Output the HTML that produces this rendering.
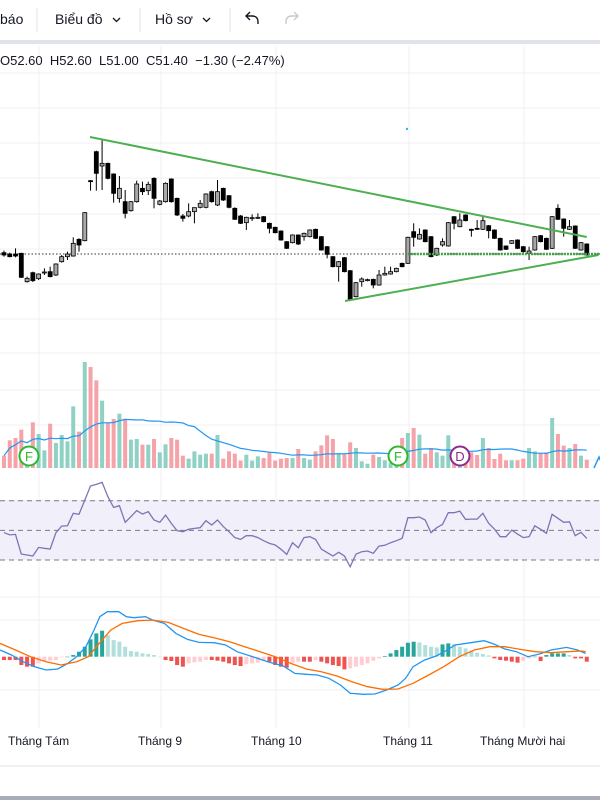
<!DOCTYPE html>
<html><head><meta charset="utf-8"><style>
html,body{margin:0;padding:0;background:#fff;width:600px;height:800px;overflow:hidden;font-family:"Liberation Sans",sans-serif;}
svg{display:block}
</style></head><body>
<svg id="c" width="600" height="800" xmlns="http://www.w3.org/2000/svg">
<g>
 <rect x="0" y="0" width="600" height="40" fill="#fff"/>
 <text x="0" y="24" font-size="14" fill="#131722">báo</text>
 <line x1="37" y1="8" x2="37" y2="32" stroke="#e0e3eb"/>
 <text x="55" y="24" font-size="14" fill="#131722">Biểu đồ</text>
 <path d="M113 18 l3.5 3.5 l3.5 -3.5" fill="none" stroke="#131722" stroke-width="1.3"/>
 <line x1="140" y1="8" x2="140" y2="32" stroke="#e0e3eb"/>
 <text x="155" y="24" font-size="14" fill="#131722">Hồ sơ</text>
 <path d="M203 18 l3.5 3.5 l3.5 -3.5" fill="none" stroke="#131722" stroke-width="1.3"/>
 <line x1="230" y1="8" x2="230" y2="32" stroke="#e0e3eb"/>
 <path d="M258 24 v-2 q0 -6 -6 -6 h-6 M250 12 l-4 4 l4 4" fill="none" stroke="#131722" stroke-width="1.4"/>
 <path d="M286 24 v-2 q0 -6 6 -6 h6 M294 12 l4 4 l-4 4" fill="none" stroke="#c8cad0" stroke-width="1.4"/>
 <rect x="0" y="40" width="600" height="4" fill="#e0e3eb"/>
</g>
<g id="grid"></g>
<rect x="0" y="500" width="600" height="60" fill="#f1eff9"/>
<g id="rsiLines"></g>
<g id="vol"></g>
<g id="price"></g>
<g id="rsi"></g>
<g id="macd"></g>
<text x="0" y="65" font-size="13" fill="#131722">O52.60&#160; H52.60&#160; L51.00&#160; C51.40&#160; −1.30 (−2.47%)</text>
<g font-size="12" fill="#131722">
 <text x="8" y="745">Tháng Tám</text>
 <text x="138" y="745">Tháng 9</text>
 <text x="251" y="745">Tháng 10</text>
 <text x="383" y="745">Tháng 11</text>
 <text x="480" y="745">Tháng Mười hai</text>
 <line x1="0" y1="766" x2="600" y2="766" stroke="#e0e3eb"/>
 <rect x="0" y="796" width="600" height="4" fill="#a9adb5"/>
</g>
</svg>
<script>
const opens=[60.2,59.8,59.8,60.0,51.5,54.2,52.4,54.2,54.5,53.5,57.5,59.0,59.2,64.2,63.8,81.8,90.5,86.2,87.0,83.8,76.5,75.5,72.8,75.5,79.5,78.8,82.5,74.7,75.5,82.3,76.5,71.2,71.2,72.5,73.8,73.8,78.5,74.5,79.5,77.3,73.5,71.2,69.2,70.5,70.7,71.0,69.0,67.8,66.7,63.5,63.2,65.5,65.0,65.0,67.2,65.0,62.0,59.0,56.0,58.7,54.8,47.0,51.5,51.9,52.2,50.5,53.5,53.8,54.5,57.0,57.0,66.5,64.3,67.0,65.0,59.5,62.5,62.2,71.0,68.0,71.5,67.2,67.5,67.2,68.3,67.0,64.5,62.2,63.0,64.0,62.0,60.0,61.0,65.3,64.5,61.5,73.5,70.3,67.2,68.2,61.0,62.8];
const highs=[60.8,60.2,61.5,60.2,53.0,54.5,54.0,55.5,56.0,57.0,59.5,60.5,64.8,64.5,72.4,82.0,90.8,94.0,87.2,84.0,83.2,79.0,75.7,81.8,81.5,81.5,82.8,76.0,81.3,82.5,76.7,71.8,75.0,73.8,76.0,78.0,78.8,82.0,79.7,77.5,73.8,71.5,71.0,71.7,72.0,71.2,69.2,68.0,66.9,63.7,65.7,65.7,66.2,67.2,67.4,65.2,62.2,59.2,57.7,58.9,55.0,51.4,52.8,52.4,52.4,55.0,56.0,56.0,55.7,57.2,65.0,69.0,67.5,67.2,65.2,61.7,64.5,69.4,71.2,72.0,71.7,67.4,70.0,71.0,68.5,67.2,64.7,62.4,64.0,64.2,62.2,62.0,65.2,65.5,64.7,71.2,74.7,70.5,70.0,68.4,63.4,63.0];
const lows=[59.0,58.8,58.8,52.6,51.2,51.4,52.0,53.5,52.8,53.2,57.2,58.0,59.0,60.5,63.6,78.8,78.8,79.0,82.2,75.2,75.2,70.5,72.5,75.2,77.5,77.5,73.5,74.4,75.2,75.2,71.2,69.5,70.8,69.0,73.5,73.5,75.2,74.2,75.7,73.5,70.0,68.8,67.0,69.7,70.3,69.3,66.0,66.0,63.8,61.3,63.0,62.5,63.8,64.8,64.3,60.8,58.5,55.8,51.5,54.3,46.0,46.8,50.0,51.6,49.5,50.3,53.3,53.6,54.3,55.8,56.8,62.0,64.1,63.3,58.8,59.2,62.0,62.0,67.2,67.8,69.6,65.0,67.0,67.0,64.5,64.3,60.8,61.0,62.8,61.3,60.2,58.0,60.8,63.3,61.0,61.3,70.0,65.0,67.0,61.3,60.8,59.3];
const closes=[59.5,59.0,59.2,52.8,52.5,51.8,53.8,54.4,53.0,56.8,59.0,59.8,63.0,62.5,72.2,81.6,84.0,87.0,82.5,78.0,79.5,72.0,75.5,80.8,78.5,80.7,76.5,75.7,81.0,75.5,71.5,70.5,72.5,73.7,75.0,77.8,75.5,78.5,76.0,73.8,70.2,69.0,70.8,70.7,70.8,69.5,67.5,66.2,64.0,61.5,65.5,62.8,66.0,67.0,64.5,61.0,59.7,56.0,57.5,54.5,46.2,51.2,52.3,52.1,50.5,53.5,54.0,54.5,55.5,56.0,64.8,64.8,65.7,63.5,59.0,61.5,63.5,69.2,69.0,70.0,69.8,67.0,67.3,69.8,66.8,64.5,61.0,61.2,63.8,61.5,60.5,60.7,65.0,63.5,61.2,71.0,70.2,67.5,68.0,61.5,63.2,59.5];
const volumes=[37,83,90,115,55,137,102,53,133,75,99,80,185,109,318,303,263,202,135,147,163,148,85,87,70,70,87,47,71,90,85,37,28,50,40,43,43,99,28,50,43,22,40,22,35,30,47,22,28,30,30,57,30,25,50,68,98,87,43,40,77,60,20,13,40,33,23,15,20,90,105,120,100,43,60,47,37,98,25,30,35,47,39,90,60,27,43,23,23,23,28,60,50,43,47,150,102,67,60,72,37,25];
const rsiVals=[48.4,46.9,47.3,34.0,33.4,32.7,38.5,37.9,37.4,48.4,52.9,53.1,61.5,60.8,70.4,79.9,81.0,82.4,72.7,65.5,66.6,55.4,59.2,63.3,61.0,62.6,57.0,55.4,60.3,54.7,49.8,49.1,50.7,51.3,51.8,56.5,53.6,57.0,52.5,49.1,45.1,43.9,46.4,46.4,45.1,43.0,41.2,40.1,37.2,33.8,41.7,38.3,45.1,45.7,43.9,37.4,35.0,32.7,35.2,32.7,25.5,34.0,35.6,36.1,34.5,39.4,39.9,41.7,43.0,44.6,58.5,58.5,59.0,57.0,48.4,51.8,54.0,61.9,61.9,63.0,57.4,57.6,57.6,61.5,54.7,50.9,45.7,45.7,50.2,47.5,45.1,45.7,53.1,50.7,48.0,60.8,58.1,55.4,55.8,46.4,48.7,44.6];
const rsiLevels=[70,50,30];
const histVals=[-0.1,-0.1,-0.1,-0.25,-0.3,-0.3,-0.2,-0.15,-0.12,-0.1,-0.02,0,0.05,0.15,0.3,0.52,0.7,0.78,0.65,0.5,0.45,0.3,0.17,0.15,0.1,0.08,0.05,0,-0.1,-0.13,-0.25,-0.3,-0.2,-0.17,-0.15,-0.1,-0.1,-0.12,-0.15,-0.2,-0.25,-0.28,-0.22,-0.2,-0.18,-0.1,-0.15,-0.25,-0.3,-0.33,-0.18,-0.15,-0.15,-0.15,-0.1,-0.15,-0.2,-0.25,-0.28,-0.38,-0.35,-0.3,-0.25,-0.2,-0.12,-0.05,0.02,0.1,0.2,0.3,0.42,0.45,0.43,0.35,0.3,0.28,0.37,0.4,0.38,0.3,0.25,0.18,0.12,0.08,0.04,-0.05,-0.1,-0.12,-0.15,-0.18,-0.12,-0.05,0,-0.13,0.05,0.1,0.1,0.1,0.05,-0.05,-0.05,-0.15];
const macdIdx=[-0.7,1.3,3.3,5.3,7.3,9.3,10.9,12.6,14.2,15.6,16.6,17.9,19.9,21.2,22.5,24.5,25.8,27.8,29.8,31.8,33.8,36.4,38.4,40.4,43.1,45.7,48.4,50.4,52.4,54.3,56.3,58.3,60,62.3,64.3,66.3,68.3,69.6,70.9,72.9,74.9,76.6,78.2,80.9,83.2,84.9,86.8,88.8,90.8,92.8,94.8,97.5,99.4,100.8];
const macdVals=[0.2,0.05,-0.15,-0.3,-0.4,-0.37,-0.22,0,0.3,0.8,1.2,1.35,1.35,1.2,1.17,1.2,1.1,1.0,0.7,0.52,0.43,0.42,0.35,0.15,0,-0.15,-0.28,-0.5,-0.53,-0.55,-0.65,-0.85,-1.1,-1.13,-1.12,-1.0,-0.85,-0.65,-0.3,-0.1,0.02,0.18,0.35,0.42,0.48,0.38,0.23,0.15,0,0.08,0.2,0.28,0.2,0.1];
const signalIdx=[-0.7,2,4.6,7.3,9.9,12.6,14.6,16.5,18.5,20.5,23.2,25.8,28.5,31.1,33.8,36.4,39.1,41.7,44.4,47,49.7,52.4,55,57.7,60.3,63,65.6,68.3,70.9,73.6,76.2,78.9,81.5,84.2,86.8,89.5,92.1,94.8,97.5,100.1,100.8];
const signalVals=[0.4,0.2,0,-0.15,-0.25,-0.15,0,0.4,0.8,1.0,1.08,1.1,1.03,0.85,0.67,0.57,0.45,0.3,0.15,0,-0.2,-0.37,-0.45,-0.58,-0.75,-0.9,-0.98,-0.97,-0.8,-0.55,-0.3,0,0.2,0.3,0.3,0.22,0.15,0.12,0.15,0.17,0.15];
const lastPrice=59.8;
const trendUpper=[[14.9,94.9],[101,64.9]];
const trendLower=[[59.1,45.7],[103,59.5]];
const supportLevel=[70,104,59.8];

const NS='http://www.w3.org/2000/svg';
function mk(tag,attrs,parent){const e=document.createElementNS(NS,tag);for(const k in attrs)e.setAttribute(k,attrs[k]);parent.appendChild(e);return e;}
const xOf=i=>4+i*5.77;
const yP=p=>120+(100-p)*10/3;
const yV=v=>468-v/3;
const yR=r=>500.7+(70-r)*59.3/40;
const yM=v=>656.7-v*33.3;

// grid
const g=document.getElementById('grid');
[39,161,276,409,524].forEach(x=>{const l=mk('line',{x1:x,y1:45,x2:x,y2:728,stroke:'#f0f1f4'},g);});
[73,108,143,178,214,249,284,319,353,390,425,460,597,620,690].forEach(y=>{const l=mk('line',{x1:0,y1:y,x2:600,y2:y,stroke:'#f0f1f4'},g);});

// rsi levels
const rl=document.getElementById('rsiLines');
rsiLevels.forEach(v=>{const l=mk('line',{x1:0,y1:yR(v),x2:600,y2:yR(v),stroke:'#787b86','stroke-dasharray':'5 4','stroke-width':1},rl);});

// price
const pg=document.getElementById('price');
const lp=mk('line',{x1:0,y1:yP(lastPrice),x2:600,y2:yP(lastPrice),stroke:'#333','stroke-dasharray':'1.5 2','stroke-width':1},pg);


for(let i=0;i<opens.length;i++){
  const x=xOf(i),o=opens[i],c=closes[i],up=c>=o;
  const grp=mk('g',{},pg);
  
  
  mk('line',{x1:x,y1:yP(highs[i]),x2:x,y2:yP(lows[i]),stroke:'#000','stroke-width':1},grp);
  const t=yP(Math.max(o,c)),b=yP(Math.min(o,c));
  mk('rect',{x:x-2,y:t,width:4,height:Math.max(1,b-t),fill:up?'#a8a8a8':'#000',stroke:'#000','stroke-width':0.8},grp);
}
function tl(pts,name,extra){const e=mk('line',Object.assign({x1:xOf(pts[0][0]),y1:yP(pts[0][1]),x2:xOf(pts[1][0]),y2:yP(pts[1][1]),stroke:'#4caf50','stroke-width':2},extra||{}),pg);}
tl(trendUpper,'trendline-upper');
tl(trendLower,'trendline-lower');
const sl=mk('line',{x1:xOf(supportLevel[0]),y1:yP(supportLevel[2]),x2:xOf(supportLevel[1]),y2:yP(supportLevel[2]),stroke:'#43a047','stroke-width':2.5,'stroke-dasharray':'2 1'},pg);


const dot=mk('circle',{cx:407,cy:129,r:1.2,fill:'#29b6f6'},pg);



// volume
const vg=document.getElementById('vol');
for(let i=0;i<volumes.length;i++){
  const up=closes[i]>=opens[i];
  const r=mk('rect',{x:xOf(i)-2,y:yV(volumes[i]),width:4,height:volumes[i]/3,fill:up?'#8fd1c4':'#f6a2a9'},vg);
  
  
}
let vp='';
for(let i=0;i<volumes.length;i++){const s=Math.max(0,i-19);let sum=0;for(let j=s;j<=i;j++)sum+=volumes[j];vp+=(i?'L':'M')+xOf(i).toFixed(1)+' '+yV(sum/(i-s+1)).toFixed(1);}
const vma=mk('path',{d:vp,fill:'none',stroke:'#2196f3','stroke-width':1.2},vg);


function badge(cx,letter,col,name){const b=mk('g',{},vg);mk('circle',{cx:cx,cy:456,r:9.5,fill:'#fff',stroke:col,'stroke-width':2},b);const t=mk('text',{x:cx,y:461,'font-size':13,'text-anchor':'middle',fill:col},b);t.textContent=letter;}
badge(29,'F','#2eb82e','event-badge-f');
badge(398,'F','#2eb82e','event-badge-f');
badge(460,'D','#8e2a8e','event-badge-d');
const car=mk('path',{d:'M594 468 L599 457 L604 468',fill:'none',stroke:'#2196f3','stroke-width':1.5},vg);



// rsi
const rg=document.getElementById('rsi');
const rp=rsiVals.map((v,i)=>(i?'L':'M')+xOf(i).toFixed(1)+' '+yR(v).toFixed(1)).join('');
const rline=mk('path',{d:rp,fill:'none',stroke:'#7e74b5','stroke-width':1.3},rg);



// macd
const mg=document.getElementById('macd');
for(let i=0;i<histVals.length;i++){
  const v=histVals[i],prev=i?histVals[i-1]:v;
  let col;
  if(v>=0)col=v>=prev?'#26a69a':'#b2dfdb';else col=v<=prev?'#ef5350':'#ffcdd2';
  const y0=yM(0),y1=yM(v);
  const r=mk('rect',{x:xOf(i)-2,y:Math.min(y0,y1),width:4,height:Math.max(0.5,Math.abs(y1-y0)),fill:col},mg);
  
  
}
const mline=mk('path',{d:macdIdx.map((ix,k)=>(k?'L':'M')+xOf(ix).toFixed(1)+' '+yM(macdVals[k]).toFixed(1)).join(''),fill:'none',stroke:'#2196f3','stroke-width':1.3},mg);


const sline=mk('path',{d:signalIdx.map((ix,k)=>(k?'L':'M')+xOf(ix).toFixed(1)+' '+yM(signalVals[k]).toFixed(1)).join(''),fill:'none',stroke:'#ff6d00','stroke-width':1.3},mg);


</script>
</body></html>
